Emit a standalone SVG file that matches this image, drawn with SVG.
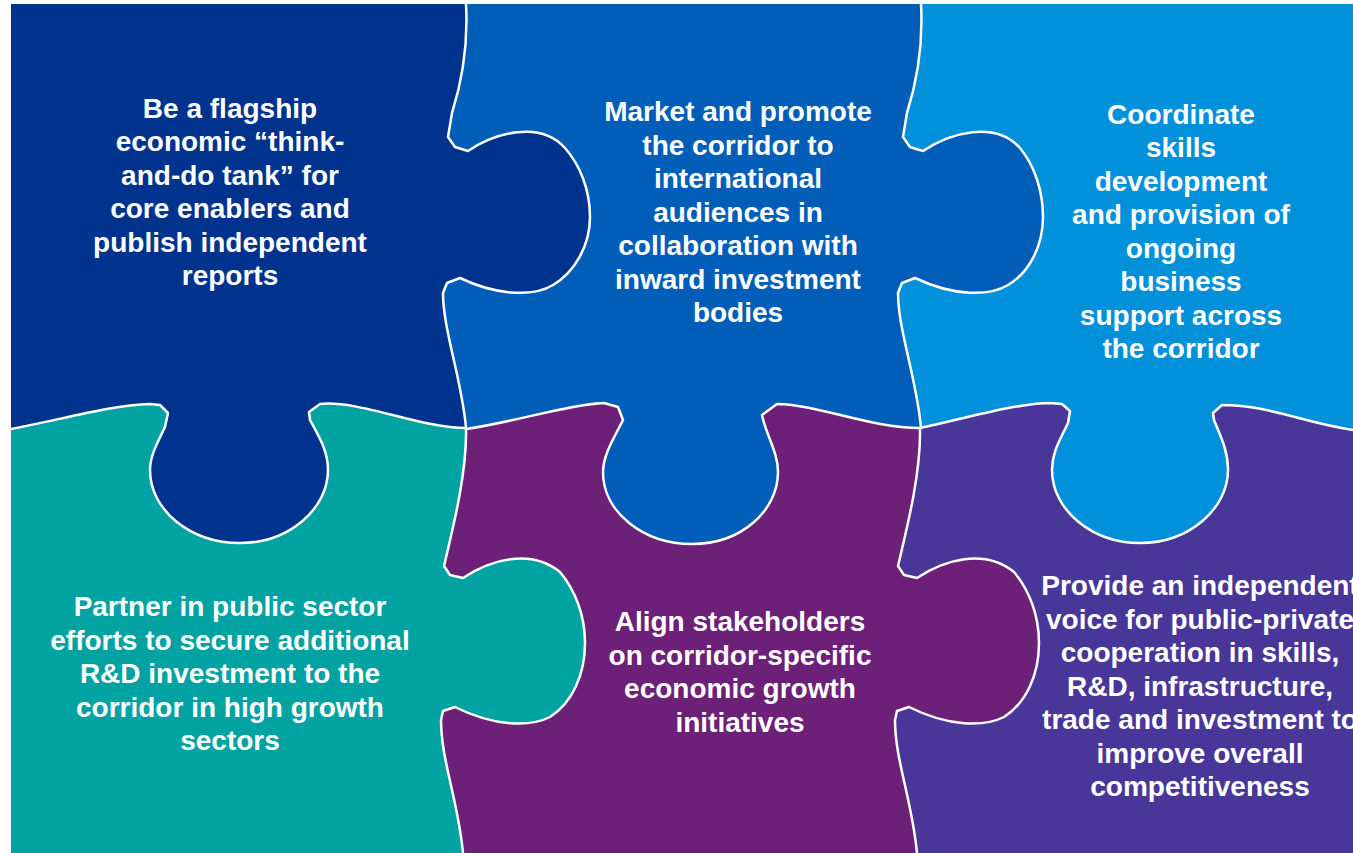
<svg xmlns="http://www.w3.org/2000/svg" xmlns:xlink="http://www.w3.org/1999/xlink" width="1353" height="853" viewBox="0 0 1353 853">
<style>
.t{font-family:"Liberation Sans",Arial,sans-serif;font-weight:bold;font-size:28px;fill:#fff;text-anchor:middle}
.edge{fill:none;stroke:#fff;stroke-width:2.5;stroke-linejoin:round}
</style>
<rect width="1353" height="853" fill="#fff"/>
<g id="piece-top-right">
<path fill="#0091DA" d="M895,4 L1360,4 L1360,560 L895,560 Z"/>
<text class="t" x="1181" y="123.5">Coordinate</text>
<text class="t" x="1181" y="157">skills</text>
<text class="t" x="1181" y="190.5">development</text>
<text class="t" x="1181" y="224">and provision of</text>
<text class="t" x="1181" y="257.5">ongoing</text>
<text class="t" x="1181" y="291">business</text>
<text class="t" x="1181" y="324.5">support across</text>
<text class="t" x="1181" y="358">the corridor</text>
</g>
<g id="piece-top-middle">
<path fill="#005EB8" d="M440,4 L921,4 C923,40 919,75 907,113 L903,137 L910,147 L923,151 C950,133 995,120 1020,148 C1034,165 1043,190 1043,217 C1043,245 1030,272 1008,285 C990,296 955,297 915,278 L902,283 L898,293 C898,330 917,380 921,428 L921,560 L440,560 Z"/>
<text class="t" x="738" y="121">Market and promote</text>
<text class="t" x="738" y="154.5">the corridor to</text>
<text class="t" x="738" y="188">international</text>
<text class="t" x="738" y="221.5">audiences in</text>
<text class="t" x="738" y="255">collaboration with</text>
<text class="t" x="738" y="288.5">inward investment</text>
<text class="t" x="738" y="322">bodies</text>
</g>
<g id="piece-top-left">
<path fill="#00338D" d="M11,4 L466,4 C468,40 464,75 452,113 L448,137 L455,147 L468,151 C495,133 540,120 565,148 C580,165 590,190 590,217 C590,245 575,272 553,285 C535,296 500,297 460,278 L447,283 L443,293 C443,330 462,380 466,428 L466,560 L11,560 Z"/>
<text class="t" x="230" y="117.5">Be a flagship</text>
<text class="t" x="230" y="151">economic “think-</text>
<text class="t" x="230" y="184.5">and-do tank” for</text>
<text class="t" x="230" y="218">core enablers and</text>
<text class="t" x="230" y="251.5">publish independent</text>
<text class="t" x="230" y="285">reports</text>
</g>
<g id="piece-bottom-right">
<path fill="#483698" d="M890,428 L920,428 C960,420 1010,404 1050,403 L1062,404 L1070,411 L1068,423 C1060,440 1052,452 1052,470 C1052,510 1092,543 1140,543 C1190,543 1228,508 1228,470 C1228,450 1220,435 1214,420 L1213,413 L1222,405 C1270,405 1310,425 1360,431 L1360,860 L890,860 Z"/>
<text class="t" x="1200" y="595">Provide an independent</text>
<text class="t" x="1200" y="628.5">voice for public-private</text>
<text class="t" x="1200" y="662">cooperation in skills,</text>
<text class="t" x="1200" y="695.5">R&amp;D, infrastructure,</text>
<text class="t" x="1200" y="729">trade and investment to</text>
<text class="t" x="1200" y="762.5">improve overall</text>
<text class="t" x="1200" y="796">competitiveness</text>
</g>
<g id="piece-bottom-middle">
<path fill="#6D2077" d="M435,428 L466,429 C515,422 565,405 604,403 L618,407 L623,420 C614,438 603,455 603,472 C603,512 643,544 692,544 C742,544 778,510 778,472 C778,452 766,435 762,415 L777,404 C820,405 870,428 920,428 C921,470 909,520 898,566 L904,575 L917,578 C944,560 984,548 1014,572 C1029,590 1039,615 1039,643 C1039,675 1026,703 1004,717 C984,727 949,727 909,707 L897,711 L895,720 C895,760 912,800 917,853 L917,860 L435,860 Z"/>
<text class="t" x="740" y="631">Align stakeholders</text>
<text class="t" x="740" y="664.5">on corridor-specific</text>
<text class="t" x="740" y="698">economic growth</text>
<text class="t" x="740" y="731.5">initiatives</text>
</g>
<g id="piece-bottom-left">
<path fill="#00A3A1" d="M11,429 C60,420 110,405 150,404 L160,405 L168,413 L165,427 C158,442 150,455 150,470 C150,510 190,543 240,543 C290,543 328,508 328,470 C328,450 318,435 310,420 L309,412 L320,404 C360,400 420,428 466,428 C467,470 455,520 444,566 L450,575 L463,578 C490,560 530,548 560,572 C575,590 585,615 585,643 C585,675 572,703 550,717 C530,727 495,727 455,707 L443,711 L441,720 C441,760 458,800 463,853 L463,860 L11,860 Z"/>
<text class="t" x="230" y="616">Partner in public sector</text>
<text class="t" x="230" y="649.5">efforts to secure additional</text>
<text class="t" x="230" y="683">R&amp;D investment to the</text>
<text class="t" x="230" y="716.5">corridor in high growth</text>
<text class="t" x="230" y="750">sectors</text>
</g>
<g id="connectors">
<path class="edge" d="M466,4 C468,40 464,75 452,113 L448,137 L455,147 L468,151 C495,133 540,120 565,148 C580,165 590,190 590,217 C590,245 575,272 553,285 C535,296 500,297 460,278 L447,283 L443,293 C443,330 462,380 466,428"/>
<path class="edge" d="M921,4 C923,40 919,75 907,113 L903,137 L910,147 L923,151 C950,133 995,120 1020,148 C1034,165 1043,190 1043,217 C1043,245 1030,272 1008,285 C990,296 955,297 915,278 L902,283 L898,293 C898,330 917,380 921,428"/>
<path class="edge" d="M466,428 C467,470 455,520 444,566 L450,575 L463,578 C490,560 530,548 560,572 C575,590 585,615 585,643 C585,675 572,703 550,717 C530,727 495,727 455,707 L443,711 L441,720 C441,760 458,800 463,853"/>
<path class="edge" d="M920,428 C921,470 909,520 898,566 L904,575 L917,578 C944,560 984,548 1014,572 C1029,590 1039,615 1039,643 C1039,675 1026,703 1004,717 C984,727 949,727 909,707 L897,711 L895,720 C895,760 912,800 917,853"/>
<path class="edge" d="M11,429 C60,420 110,405 150,404 L160,405 L168,413 L165,427 C158,442 150,455 150,470 C150,510 190,543 240,543 C290,543 328,508 328,470 C328,450 318,435 310,420 L309,412 L320,404 C360,400 420,428 466,428"/>
<path class="edge" d="M466,429 C515,422 565,405 604,403 L618,407 L623,420 C614,438 603,455 603,472 C603,512 643,544 692,544 C742,544 778,510 778,472 C778,452 766,435 762,415 L777,404 C820,405 870,428 920,428"/>
<path class="edge" d="M920,428 C960,420 1010,404 1050,403 L1062,404 L1070,411 L1068,423 C1060,440 1052,452 1052,470 C1052,510 1092,543 1140,543 C1190,543 1228,508 1228,470 C1228,450 1220,435 1214,420 L1213,413 L1222,405 C1270,405 1310,425 1360,431"/>
</g>
</svg>
